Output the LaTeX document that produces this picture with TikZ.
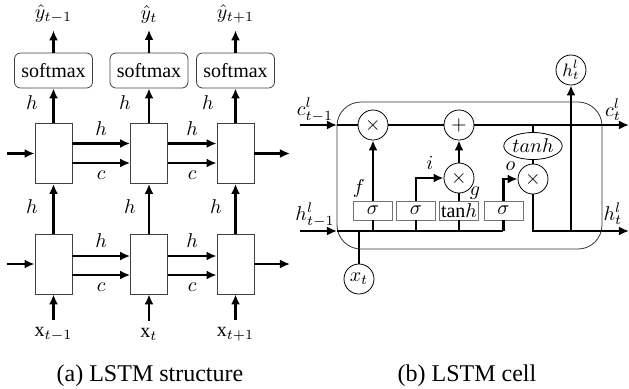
\documentclass[tikz,border=0pt]{standalone}
\usepackage{fontspec}
\setmainfont{Liberation Serif}
\usepackage{amsmath}
\usetikzlibrary{arrows, arrows.meta, shapes.geometric}

\begin{document}
\begin{tikzpicture}[x=0.5pt, y=-0.5pt, >={Latex[length=5pt,width=4.5pt]},
	flow/.style = {->, line width=1.4pt},
	wire/.style = {line width=1.4pt},
	cell/.style = {draw=black!75, fill=white,
		minimum width=18.5pt, minimum height=30pt, inner sep=0pt},
	soft/.style = {draw=black!75, rounded corners=3pt,
		minimum width=39pt, minimum height=17.5pt, inner sep=0pt},
	gate/.style = {draw=black!55, minimum width=19.5pt,
		minimum height=9.5pt, inner sep=0pt},
	op/.style = {circle, draw, fill=white, minimum size=15pt, inner sep=0pt}]
	
	\useasboundingbox (0,0) rectangle (629,388);
	
	% (a) LSTM structure
	\node[cell] (A1) at (53.5,153.5) {};
	\node[cell] (A2) at (149,153.5) {};
	\node[cell] (A3) at (235.5,153.5) {};
	\node[cell] (B1) at (53.5,264) {};
	\node[cell] (B2) at (149,264) {};
	\node[cell] (B3) at (235.5,264) {};
	
	\node[soft] (S1) at (53.5,70.5) {softmax};
	\node[soft] (S2) at (149,70.5) {softmax};
	\node[soft] (S3) at (235.5,70.5) {softmax};
	
	\node (Y1) at (53.5,14) {$\hat{y}_{t-1}$};
	\node (Y2) at (149,14) {$\hat{y}_{t}$};
	\node (Y3) at (235.5,14) {$\hat{y}_{t+1}$};
	
	\node (X1) at (53.5,334) {$\mathrm{x}_{t-1}$};
	\node (X2) at (149,334) {$\mathrm{x}_{t}$};
	\node (X3) at (235.5,334) {$\mathrm{x}_{t+1}$};
	
	\coordinate (inA) at (7,153.5);
	\coordinate (outA) at (290,153.5);
	\coordinate (inB) at (7,264);
	\coordinate (outB) at (290,264);
	
	% vertical arrows
	\draw[flow] (S1.north) -- (Y1.south);
	\draw[flow] (S2.north) -- (Y2.south);
	\draw[flow] (S3.north) -- (Y3.south);
	\draw[flow] (A1.north) -- (S1.south);
	\draw[flow] (A2.north) -- (S2.south);
	\draw[flow] (A3.north) -- (S3.south);
	\draw[flow] (B1.north) -- (A1.south);
	\draw[flow] (B2.north) -- (A2.south);
	\draw[flow] (B3.north) -- (A3.south);
	\draw[flow] (X1.north) -- (B1.south);
	\draw[flow] (X2.north) -- (B2.south);
	\draw[flow] (X3.north) -- (B3.south);
	
	\node at (32,103) {$h$};
	\node at (125,103) {$h$};
	\node at (208,103) {$h$};
	\node at (32,207) {$h$};
	\node at (130,207) {$h$};
	\node at (216,207) {$h$};
	
	% horizontal arrows
	\draw[flow] (inA) -- (A1.west);
	\draw[flow] (A3.east) -- (outA);
	\draw[flow] (inB) -- (B1.west);
	\draw[flow] (B3.east) -- (outB);
	\draw[flow] ([yshift=5pt]A1.east) -- node[above]{$h$} ([yshift=5pt]A2.west);
	\draw[flow] ([yshift=-4.75pt]A1.east) -- node[below]{$c$} ([yshift=-4.75pt]A2.west);
	\draw[flow] ([yshift=5pt]A2.east) -- node[above]{$h$} ([yshift=5pt]A3.west);
	\draw[flow] ([yshift=-4.75pt]A2.east) -- node[below]{$c$} ([yshift=-4.75pt]A3.west);
	\draw[flow] ([yshift=4pt]B1.east) -- node[above]{$h$} ([yshift=4pt]B2.west);
	\draw[flow] ([yshift=-5.5pt]B1.east) -- node[below]{$c$} ([yshift=-5.5pt]B2.west);
	\draw[flow] ([yshift=4pt]B2.east) -- node[above]{$h$} ([yshift=4pt]B3.west);
	\draw[flow] ([yshift=-5.5pt]B2.east) -- node[below]{$c$} ([yshift=-5.5pt]B3.west);
	
	\node[font=\large] at (150,376) {(a) LSTM structure};
	
	% (b) LSTM cell
	\draw[draw=black!80, rounded corners=12pt] (337,102) rectangle (602,249);
	
	\node[op] (M1) at (373,125) {$\times$};
	\node[op] (P) at (459,125) {$+$};
	\node[op] (M2) at (459,178) {$\times$};
	\node[op] (M3) at (533,179) {$\times$};
	\node[ellipse, draw, fill=white, minimum width=28.5pt, minimum height=13.5pt,
		inner sep=0pt] (T) at (533,146) {$tanh$};
	\node[op, font=\small] (Ht) at (571,70) {$h^{l}_{t}$};
	\node[op] (Xt) at (359,279) {$x_{t}$};
	
	\node[gate] (G1) at (373,210.5) {$\sigma$};
	\node[gate] (G2) at (416,210.5) {$\sigma$};
	\node[gate] (G3) at (459,210.5) {$\mathrm{tan}h$};
	\node[gate] (G4) at (503.5,210.5) {$\sigma$};
	
	\coordinate (cin) at (300,125);
	\coordinate (cbox) at (337,125);
	\coordinate (cout) at (629,125);
	\coordinate (hin) at (300,231);
	\coordinate (hbox) at (337,231);
	\coordinate (hend) at (503.5,231);
	\coordinate (hout) at (629,231);
	
	% cell state
	\draw[flow] (cin) -- (cbox);
	\draw[wire] (cbox) -- (M1.west);
	\draw[wire] (M1.east) -- (P.west);
	\draw[flow] (P.east) -- (cout);
	\draw[wire] (T.north) -- (T.north |- P);
	\draw[wire] (T.south) -- (M3.north);
	
	% hidden input and gates
	\draw[flow] (hin) -- (hbox);
	\draw[wire] (hbox) -- (hend);
	\draw[wire] (Xt.north) -- (Xt.north |- hin);
	\draw[wire] (G1.south) -- (G1.south |- hin);
	\draw[wire] (G2.south) -- (G2.south |- hin);
	\draw[wire] (G3.south) -- (G3.south |- hin);
	\draw[wire] (G4.south) -- (G4.south |- hin);
	\draw[flow] (G1.north) -- node[pos=0.2, left]{$f$} (M1.south);
	\draw[flow] (G2.north) |- node[pos=0.75, above]{$i$} (M2.west);
	\draw[wire] (G3.north) -- (M2.south);
	\node at (475,193) {$g$};
	\draw[flow] (M2.north) -- (P.south);
	\draw[flow] (G4.north) |- node[pos=0.75, above]{$o$} (M3.west);
	
	% output
	\draw[flow] (M3.south) |- (hout);
	\draw[flow] (Ht.south |- hout) -- (Ht.south);
	
	\node at (315,110) {$c^{l}_{t-1}$};
	\node at (613,110) {$c^{l}_{t}$};
	\node at (315,215) {$h^{l}_{t-1}$};
	\node at (613,214) {$h^{l}_{t}$};
	
	\node[font=\large] at (467,376) {(b) LSTM cell};
	
\end{tikzpicture}
\end{document}
